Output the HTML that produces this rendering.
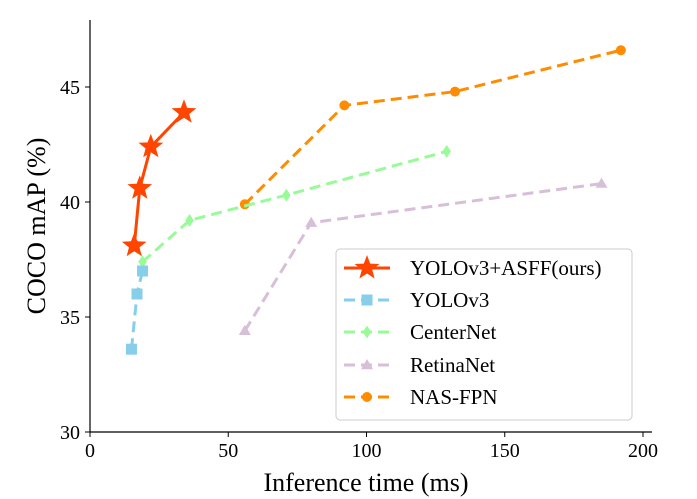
<!DOCTYPE html>
<html><head><meta charset="utf-8"><style>
body{margin:0;background:#fff}
svg{display:block;font-family:"Liberation Serif",serif}
</style></head><body>
<svg id="chart" width="697" height="499"></svg>
<script>
const seriesNames=["YOLOv3+ASFF(ours)","YOLOv3","CenterNet","RetinaNet","NAS-FPN"];
const asffX=[16,18,22,34];const asffY=[38.1,40.6,42.4,43.9];
const yoloX=[15,17,19];const yoloY=[33.6,36.0,37.0];
const centerX=[19,36,71,129];const centerY=[37.4,39.2,40.3,42.2];
const retinaX=[56,80,185];const retinaY=[34.4,39.1,40.8];
const nasX=[56,92,132,192];const nasY=[39.9,44.2,44.8,46.6];
const xTicks=[0,50,100,150,200];const yTicks=[30,35,40,45];
const NS="http://www.w3.org/2000/svg";
const svg=document.getElementById('chart');
const X0=90,XS=2.765,Y0=432,YS=23;
const sx=v=>X0+v*XS, sy=v=>Y0-(v-30)*YS;
function mk(t,a,p){const e=document.createElementNS(NS,t);for(const k in a)e.setAttribute(k,a[k]);(p||svg).appendChild(e);return e;}
let e=mk('line',{x1:90,y1:20,x2:90,y2:432,stroke:'#000','stroke-width':1.2});


e=mk('line',{x1:90,y1:432,x2:652,y2:432,stroke:'#000','stroke-width':1.2});


xTicks.forEach(t=>{mk('line',{x1:sx(t),y1:432,x2:sx(t),y2:437,stroke:'#000'});
 const tx=mk('text',{x:sx(t),y:457,'text-anchor':'middle','font-size':20});tx.textContent=t;
 
 });
yTicks.forEach(t=>{mk('line',{x1:85,y1:sy(t),x2:90,y2:sy(t),stroke:'#000'});
 const tx=mk('text',{x:80,y:sy(t)+7,'text-anchor':'end','font-size':20});tx.textContent=t;
 
 });
e=mk('text',{x:366,y:491,'text-anchor':'middle','font-size':26});e.textContent='Inference time (ms)';


e=mk('text',{x:45,y:226,'text-anchor':'middle','font-size':26,transform:'rotate(-90 45 226)'});e.textContent='COCO mAP (%)';


function marker(type,x,y,c,s,g){
 if(type==='star'){let p=[];for(let i=0;i<10;i++){const r=i%2?s*0.42:s;const a=-Math.PI/2+i*Math.PI/5;p.push((x+r*Math.cos(a)).toFixed(1)+','+(y+r*Math.sin(a)).toFixed(1));}
  return mk('polygon',{points:p.join(' '),fill:c},g);}
 if(type==='square')return mk('rect',{x:x-s,y:y-s,width:2*s,height:2*s,fill:c},g);
 if(type==='diamond')return mk('polygon',{points:`${x},${y-s} ${x+s*0.65},${y} ${x},${y+s} ${x-s*0.65},${y}`,fill:c},g);
 if(type==='tri')return mk('polygon',{points:`${x},${y-s} ${x+s},${y+s*0.7} ${x-s},${y+s*0.7}`,fill:c},g);
 return mk('circle',{cx:x,cy:y,r:s,fill:c},g);}
const series=[[asffX,asffY,'#ff4500','star',13,'',3,'series-asff'],
[yoloX,yoloY,'#87ceeb','square',5.5,'11,6',3,'series-yolov3'],
[centerX,centerY,'#98fb98','diamond',6.5,'11,6',3,'series-centernet'],
[retinaX,retinaY,'#d8bfd8','tri',6,'11,6',3,'series-retinanet'],
[nasX,nasY,'#ff8c00','circle',5,'11,6',3,'series-nasfpn']];
series.slice().reverse().forEach(s=>{
 const g=mk('g',{});
 mk('polyline',{points:s[0].map((v,i)=>sx(v)+','+sy(s[1][i])).join(' '),fill:'none',stroke:s[2],'stroke-width':s[6],'stroke-dasharray':s[5]},g);
 s[0].forEach((v,i)=>{const m=marker(s[3],sx(v),sy(s[1][i]),s[2],s[4],g);
  
  });
});
const lg=mk('g',{});


mk('rect',{x:336,y:249,width:296,height:171,rx:4,fill:'#fff','fill-opacity':0.8,stroke:'#ccc'},lg);
const rowsY=[268,300,332,365,397];
series.forEach((s,i)=>{const y=rowsY[i];
 const g=mk('g',{},lg);
 mk('line',{x1:344,y1:y,x2:390,y2:y,stroke:s[2],'stroke-width':3,'stroke-dasharray':s[5]?'11,6':''},g);
 marker(s[3],367,y,s[2],s[3]==='star'?13:s[4],g);
 const t=mk('text',{x:410,y:y+7,'font-size':21},g);t.textContent=seriesNames[i];});
</script>
</body></html>
